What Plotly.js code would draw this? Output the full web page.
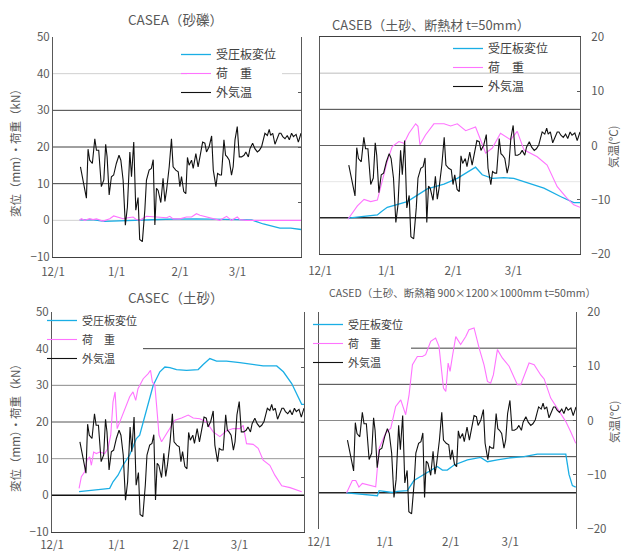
<!DOCTYPE html>
<html>
<head>
<meta charset="utf-8">
<script src="https://cdn.plot.ly/plotly-3.0.1.min.js"></script>
<style>html,body{margin:0;padding:0;background:#fff;}#chart{width:622px;height:551px;}</style>
</head>
<body>
<div id="chart"></div>
<script>
// x values are days since 12/1
const xTickVals = [0, 31, 62, 90];
const xTickText = ['12/1', '1/1', '2/1', '3/1'];
const seriesNames = ['受圧板変位', '荷　重', '外気温'];
const panelTitles = ['CASEA（砂礫）', 'CASEB（土砂、断熱材 t=50mm）', 'CASEC（土砂）', 'CASED（土砂、断熱箱 900×1200×1000mm t=50mm）'];
const leftAxisTitle = '変位（mm）・荷重（kN）';
const rightAxisTitle = '気温(°C)';

// outside air temperature (°C), same for all cases
const tempDay = [13.4,16.3,17.1,17.9,19.2,20.4,21.2,22.3,23.6,24.8,
  25.7,26.4,27.4,28.5,29.6,30.9,32.2,33.1,34.2,35.3,
  36.3,37.5,38.3,39.4,40.4,41.5,42.3,43.6,44.8,45.6,
  46.9,48.0,48.9,49.7,50.5,51.3,52.6,53.7,54.6,55.4,
  56.7,57.8,58.6,59.9,61.1,61.9,62.7,63.8,64.8,65.6,
  66.4,67.6,68.4,69.7,70.8,72.0,73.0,74.1,74.9,76.2,
  77.4,78.2,79.5,80.3,81.4,82.2,83.4,84.2,85.0,86.0,
  87.1,87.9,88.8,89.9,90.9,92.0,93.2,94.1,95.3,96.1,
  97.4,98.5,99.7,100.7,101.8,102.6,103.4,104.6,105.5,106.2,
  107.2,108.3,109.1,110.4,111.2,112.1,113.2,114.3,115.3,116.4,
  117.3,118.6,119.7,121];
const tempC = [-3.6,-9.3,-0.4,-2.4,-3.0,1.5,-0.6,-0.6,-7.2,-6.0,
  0.5,-1.8,-8.7,-5.4,-5.1,-3.0,-1.5,-2.4,-6.0,-14.2,
  -10.9,-0.9,-5.4,0.9,-11.5,-9.2,-16.8,-17.2,-11.5,-6.0,
  -4.2,-3.9,-2.3,-14.2,-7.5,-7.9,-10.1,-5.7,-9.9,-7.9,
  -3.6,1.5,-3.6,-4.2,-4.5,-7.2,-5.4,-8.1,-8.5,-1.9,
  -3.3,-2.4,-3.9,-1.2,-3.6,-1.3,0.9,0.7,-0.9,0.1,
  2.0,-4.2,-7.2,-4.8,-5.1,-5.1,1.3,-1.5,-1.8,-2.4,
  -5.1,-3.6,1.3,3.7,-1.8,-1.8,-1.5,-0.9,-1.8,-0.3,
  0.7,-0.3,-0.9,-0.6,0.1,1.3,2.5,2.1,3.2,2.1,
  2.5,0.5,1.3,2.5,2.5,1.9,1.5,2.1,1.3,2.5,
  1.9,2.3,0.9,2.5];

// CASE A
const aDispDay = [13,20,25,30,40,55,70,85,97,102.6,107,110.7,116,121];
const aDisp = [0.1,0.1,-0.3,-0.2,0.2,0.3,0.4,0.2,0.1,-1.0,-1.6,-2.1,-2.1,-2.5];
const aLoadDay = [13,13.8,15.5,17.9,19.5,21.2,24.4,27.7,29.6,31.8,34.2,36.6,39.1,40.7,42.3,45.6,48.9,52.1,55.4,57,58.6,61.9,65.1,67.6,70,71.7,74.1,75.7,78.2,81.4,84.7,87.1,89.9,91.2,94.5,121];
const aLoad = [0,0.45,0,0.45,0.2,0.4,-0.2,0.45,1.2,0.9,0.45,0.7,0.9,0.2,0,1.1,0.9,0.7,0.7,1.1,0.4,0.4,0.9,0.9,1.8,1.4,1.1,0.7,0.4,0,1.1,0,0.9,0.2,0,0];

// CASE B
const bDispDay = [13,26.7,28.5,31.3,40.6,49.9,57.7,63.9,72.4,75.5,80.2,85.6,90.2,96.4,104.2,111.9,118.1,121];
const bDisp = [-0.1,0.8,1.7,2.9,4.5,8.0,9.3,10.9,14.0,11.9,10.9,11.1,10.9,9.7,8.2,5.9,4.2,4.2];
const bLoadDay = [13,15,17.4,20.5,23.6,26.7,28.2,31.3,33.6,36.7,39.1,41.4,44.5,45.6,46.5,49.1,53,57.7,60.8,63.9,67.8,72.4,74.7,77.1,80.2,84,88.7,91.8,94.9,101.1,105.7,110.4,115,118.1,121];
const bLoad = [-0.4,1.2,3.3,5.1,4.5,4.9,8.6,15.6,19.7,21.1,20.6,23.4,26.0,25.3,20.2,22.9,26.0,26.0,25.4,26.0,24.1,25.1,21.6,17.9,19.3,23.4,21.6,23.9,18.8,16.9,14.6,8.6,5.4,3.6,2.9];

// CASE C
const cDispDay = [13,15.7,18.1,21.3,24.5,27.7,29.3,31.7,34.1,37.3,40.5,42.1,45.4,48.6,51.8,54.2,56.6,59.8,64.6,70.2,72.6,75.8,79,83.8,90.2,96.6,101.4,107.9,111.1,115.1,118.3,119.9,121];
const cDisp = [1.0,1.2,1.4,1.6,1.7,1.9,3.7,5.5,8.2,11.0,15.5,16.4,23.7,30.0,33.7,35.0,34.8,34.3,34.1,34.3,35.7,37.3,36.6,36.6,36.2,35.8,35.3,35.3,33.7,30.5,26.9,24.8,24.8];
const cLoadDay = [13,14.1,15.7,16.8,18.1,18.9,20,21.3,22.9,25.3,26.9,28.2,29.3,30.3,31.3,32.5,34.9,37.3,38.9,40.2,41.3,43.8,46.2,47.3,48.2,49.4,50.2,51.4,52.6,54.2,56.6,59,62.2,65.4,67.8,71,74.2,77.4,80.6,83.8,87,90.2,91.8,93.4,96.6,99,101.4,104.6,107,110.3,114.3,117.5,119.9];
const cLoad = [1.9,5.1,6.4,9.6,10.5,8.2,11.8,11.4,11.8,11.4,12.8,16.4,25.5,28.2,18.2,20.0,23.7,26.9,28.2,25.9,29.1,31.8,33.2,34.1,30.9,30.0,24.6,16.4,14.6,16.0,18.2,20.5,21.1,21.9,21.1,20.9,20.0,17.3,16.0,17.6,18.2,18.2,19.1,14.1,13.9,12.8,9.6,8.2,5.5,2.6,2.1,1.4,1.0];

// CASE D
const dDispDay = [13,19.6,27.5,28.3,34.5,36.9,41.6,44.7,49.5,55.7,58.1,60.4,63.6,69.9,76.1,79.3,84,90.3,96.5,102.8,109.1,116.2,117.7,119.3,120.9];
const dDisp = [0,-0.3,-0.8,0.6,0.1,0.4,0.6,3.4,5.1,7.3,6.3,6.3,7.7,9.1,9.8,8.6,9.1,9.7,10.0,10.7,10.7,10.7,5.1,2.0,1.6];
const dLoadDay = [13,15.7,17.3,18.8,20.4,22.8,26.7,28.3,31.4,33.8,36.1,38.5,40.8,42.4,44,46.3,48.7,50.2,52.6,54.9,56.5,58.6,59.7,60.8,61.7,62.8,64.4,66.7,69.1,70.6,73,75.4,77.7,79.3,80.8,82.1,84,86.3,89.5,93.4,95,98.9,101.3,104.4,106,109.1,113,116.2,118.5,120.9];
const dLoad = [0,3.4,3.4,1.6,2.6,2.3,1.7,12.3,16.5,17.9,23.9,25.7,21.6,27.1,35.4,37.7,37.7,38.2,41.9,42.8,40.5,29.0,28.0,35.9,33.6,37.7,43.2,41.0,43.2,45.1,45.6,40.0,35.4,30.8,30.3,32.6,39.6,37.3,35.0,29.9,29.9,35.9,35.4,32.6,31.5,26.2,22.5,19.7,16.9,13.7];

const W = 622, H = 551;
const px = v => v / W;
const py = v => 1 - v / H;
const FONT = 'Noto Sans CJK JP, sans-serif';
const CYAN = '#1aaee5', MAG = '#ff73ff', BLK = '#111111';

const panels = [
  {dd: aDispDay, d: aDisp, ld: aLoadDay, l: aLoad, box: [53, 301, 37, 257]},
  {dd: bDispDay, d: bDisp, ld: bLoadDay, l: bLoad, box: [320, 580, 37, 254]},
  {dd: cDispDay, d: cDisp, ld: cLoadDay, l: cLoad, box: [52, 304, 312, 532]},
  {dd: dDispDay, d: dDisp, ld: dLoadDay, l: dLoad, box: [319, 576, 312, 529]}
];

const traces = [];
const layout = {
  width: W, height: H, margin: {l: 0, r: 0, t: 0, b: 0},
  paper_bgcolor: '#fff', plot_bgcolor: 'rgba(0,0,0,0)',
  font: {family: FONT, color: '#595959', size: 11},
  annotations: [], shapes: []
};

panels.forEach((p, i) => {
  const k = i + 1;
  const xa = k === 1 ? 'x' : 'x' + k;
  const yl = 'y' + (2 * i + 1 === 1 ? '' : 2 * i + 1);
  const yr = 'y' + (2 * i + 2);
  const lg = k === 1 ? 'legend' : 'legend' + k;
  traces.push({x: p.dd, y: p.d, type: 'scatter', mode: 'lines', name: seriesNames[0], xaxis: xa, yaxis: yl, legend: lg, line: {color: CYAN, width: 1.3}});
  traces.push({x: p.ld, y: p.l, type: 'scatter', mode: 'lines', name: seriesNames[1], xaxis: xa, yaxis: yl, legend: lg, line: {color: MAG, width: 1.1}});
  traces.push({x: tempDay, y: tempC, type: 'scatter', mode: 'lines', name: seriesNames[2], xaxis: xa, yaxis: yr, legend: lg, line: {color: BLK, width: 1.1}});

  const [x0, x1, y0, y1] = p.box;
  const leftShown = (i === 0 || i === 2);
  const xKey = k === 1 ? 'xaxis' : 'xaxis' + k;
  const ylKey = 'yaxis' + (2 * i + 1 === 1 ? '' : 2 * i + 1);
  const yrKey = 'yaxis' + (2 * i + 2);
  layout[xKey] = {
    domain: [px(x0), px(x1)], anchor: yl, range: [0, 121],
    tickvals: xTickVals, ticktext: xTickText, showgrid: false, zeroline: false,
    showline: i !== 3, linecolor: '#404040', linewidth: 1, mirror: i === 1,
    ticks: '', ticklabelstandoff: [4, 6, 2, 4][i], tickfont: {size: 11.5, color: '#595959'}
  };
  layout[ylKey] = {
    domain: [py(y1), py(y0)], anchor: xa, range: [-10, 50], dtick: 10,
    showgrid: false, zeroline: false, showline: true, linecolor: '#595959', linewidth: 1,
    showticklabels: leftShown, ticks: '', tickfont: {size: 11.5, color: '#595959'}
  };
  layout[yrKey] = {
    overlaying: yl, side: 'right', anchor: xa, range: [-20, 20], dtick: 10,
    showgrid: false, zeroline: false, showline: true, linecolor: '#595959', linewidth: 1,
    showticklabels: !leftShown, ticks: 'inside', ticklen: 3, tickcolor: '#595959',
    ticklabelstandoff: 8, tickfont: {size: 11.5, color: '#595959'}
  };
});

// legends: [left px, top px, font size]
const legendPos = [[176, 40, 12], [448, 34, 12], [42, 306, 11], [308, 310, 11]];
legendPos.forEach((lp, i) => {
  const key = i === 0 ? 'legend' : 'legend' + (i + 1);
  layout[key] = {x: px(lp[0]), y: py(lp[1]), xanchor: 'left', yanchor: 'top',
    bgcolor: 'rgba(0,0,0,0)', borderwidth: 0, font: {family: FONT, size: lp[2], color: '#404040'}};
});

// horizontal gridlines (left axis values) per panel: [value, color, width, xStartPx, xEndPx]
const grid = [
  [[40,'#d0d0d0',1,53,187],[40,'#d0d0d0',1,282,301],[30,'#404040',1],[20,'#404040',1],[10,'#404040',1],[0,'#d0d0d0',1]],
  [[40,'#bdbdbd',1],[30,'#404040',1],[20,'#606060',1.2],[10,'#e6e6e6',1],[0,'#262626',1.5]],
  [[40,'#404040',1,143,304],[30,'#8a8a8a',1],[20,'#555555',1],[10,'#9a9a9a',1],[0,'#111111',1.5]],
  [[40,'#404040',1,411,576],[30,'#404040',1],[20,'#8a8a8a',1],[10,'#404040',1],[0,'#262626',1.5]]
];
grid.forEach((g, i) => {
  const yl = 'y' + (2 * i + 1 === 1 ? '' : 2 * i + 1);
  const b = panels[i].box;
  g.forEach(r => {
    layout.shapes.push({type: 'line', xref: 'paper', yref: yl, layer: 'below',
      x0: px(r[3] !== undefined ? r[3] : b[0]), x1: px(r[4] !== undefined ? r[4] : b[1]),
      y0: r[0], y1: r[0], line: {color: r[1], width: r[2]}});
  });
});

// titles
const titlePos = [[175, 19, 13.5], [431, 24, 13], [175, 297, 13.5], [462, 292, 10.5]];
titlePos.forEach((t, i) => {
  layout.annotations.push({text: panelTitles[i], xref: 'paper', yref: 'paper', x: px(t[0]), y: py(t[1]),
    xanchor: 'center', yanchor: 'middle', showarrow: false, font: {family: FONT, size: t[2], color: '#595959'}});
});
[[15, 150], [15, 425]].forEach(t => {
  layout.annotations.push({text: leftAxisTitle, xref: 'paper', yref: 'paper', x: px(t[0]), y: py(t[1]),
    xanchor: 'center', yanchor: 'middle', textangle: -90, showarrow: false, font: {family: FONT, size: 11.5, color: '#595959'}});
});
[[613, 147], [614, 422]].forEach(t => {
  layout.annotations.push({text: rightAxisTitle, xref: 'paper', yref: 'paper', x: px(t[0]), y: py(t[1]),
    xanchor: 'center', yanchor: 'middle', textangle: -90, showarrow: false, font: {family: FONT, size: 11.5, color: '#595959'}});
});

Plotly.newPlot('chart', traces, layout, {displayModeBar: false, staticPlot: true});
</script>
</body>
</html>
